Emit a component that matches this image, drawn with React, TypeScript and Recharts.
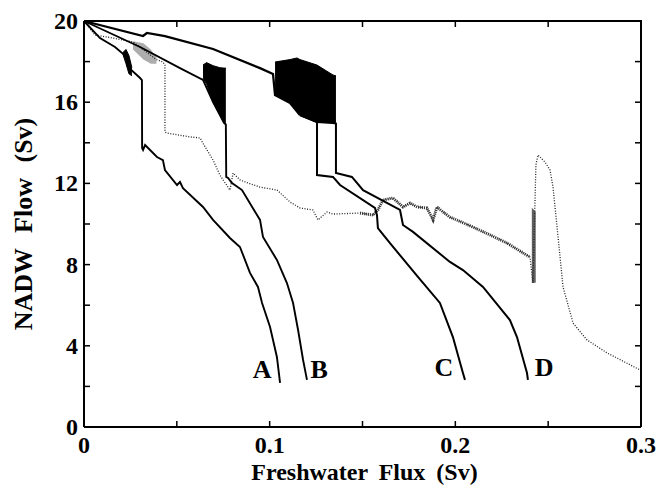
import React from 'react';
import { ComposedChart, Line, Area, XAxis, YAxis, ReferenceDot } from 'recharts';

// curve A (leftmost collapse)
const curveAX = [0, 0.0086, 0.0167, 0.0221, 0.0253, 0.0302, 0.0312, 0.0313, 0.0318, 0.0329, 0.0393, 0.0425, 0.0436, 0.0501, 0.0517, 0.0533, 0.0641, 0.0695, 0.0786, 0.084, 0.0894, 0.0937, 0.0959, 0.1002, 0.1039, 0.1056];
const curveAY = [20, 19.16, 18.72, 18.3, 17.6, 17.19, 17.09, 13.74, 13.65, 13.89, 13.3, 13.15, 12.66, 11.92, 12.07, 11.77, 10.84, 10.2, 9.31, 8.87, 7.59, 6.9, 6.11, 4.93, 3.45, 2.17];

// curve B
const curveBX = [0, 0.0302, 0.0517, 0.0641, 0.0695, 0.0732, 0.0754, 0.0764, 0.0766, 0.0776, 0.0797, 0.0851, 0.0948, 0.0964, 0.1039, 0.1093, 0.1126, 0.1153, 0.118, 0.1201];
const curveBY = [20, 18.72, 17.68, 17.1, 16.01, 15.37, 14.98, 14.9, 12.32, 12.27, 12.02, 11.67, 10.2, 9.36, 8.23, 7.09, 6.11, 4.78, 3.3, 2.32];

// shared upper path of C and D before the big oscillation
const upperX = [0, 0.0318, 0.0339, 0.0436, 0.0695, 0.0948, 0.1018, 0.1029, 0.111, 0.1163];
const upperY = [20, 19.26, 19.41, 19.26, 18.62, 17.68, 17.39, 16.35, 15.96, 15.37];

const curveCX = [0.1163, 0.1255, 0.1255, 0.1341, 0.1379, 0.1567, 0.1578, 0.1583, 0.1648, 0.1794, 0.1917, 0.1987, 0.2041, 0.2052];
const curveCY = [15.37, 15.02, 12.41, 12.32, 11.92, 10.79, 10.44, 9.8, 9.06, 7.44, 6.11, 4.43, 2.66, 2.32];

const curveDX = [0.1163, 0.1255, 0.1341, 0.1357, 0.1357, 0.1443, 0.1503, 0.1702, 0.1718, 0.1772, 0.1971, 0.2041, 0.2149, 0.2294, 0.2332, 0.2386, 0.2391];
const curveDY = [15.37, 15.02, 14.98, 14.95, 12.51, 12.32, 11.67, 10.69, 9.95, 9.61, 8.13, 7.73, 6.9, 5.27, 4.43, 2.66, 2.32];

// dotted run
const dottedX = [0, 0.0059, 0.0156, 0.0264, 0.039, 0.0425, 0.0436, 0.0436, 0.0447, 0.0571, 0.0625, 0.064, 0.0695, 0.0732, 0.0786, 0.0803, 0.084, 0.0883, 0.0948, 0.104, 0.111, 0.1163, 0.1233, 0.126, 0.1309, 0.1341, 0.1487, 0.1557, 0.1583, 0.161, 0.1664, 0.1718, 0.1756, 0.1794, 0.1847, 0.188, 0.1901, 0.1934, 0.1971, 0.2095, 0.2187, 0.2278, 0.2402, 0.2418, 0.2434, 0.2445, 0.2483, 0.251, 0.2526, 0.2548, 0.258, 0.2634, 0.2709, 0.2817, 0.2995];
const dottedY = [20, 19.31, 19.16, 18.97, 18.1, 17.98, 17.83, 14.53, 14.48, 14.29, 14.24, 13.99, 13.15, 12.41, 11.67, 12.51, 12.17, 12.02, 11.82, 11.67, 11.08, 10.79, 10.69, 10.2, 10.59, 10.49, 10.54, 10.44, 10.69, 11.18, 11.28, 10.84, 11.03, 10.84, 10.79, 10.2, 10.84, 10.59, 10.34, 9.85, 9.46, 9.06, 8.37, 7.09, 12.91, 13.4, 13.05, 12.66, 11.82, 9.85, 6.9, 5.12, 4.29, 3.65, 2.81];
// noisy (thick) stretch of the dotted run, index range into dottedX
const noisyFrom = 26;
const noisyTo = 43;

// oscillation envelopes (drawn as filled bands)
const blobAX = [0.021, 0.0226, 0.0242, 0.0258];
const blobALow = [18.35, 17.9, 17.4, 17.3];
const blobAHigh = [18.45, 18.6, 18.3, 17.7];

const blobBX = [0.0641, 0.066, 0.0695, 0.0732, 0.0754, 0.0764];
const blobBLow = [17.19, 16.9, 16.01, 15.37, 14.98, 14.88];
const blobBHigh = [17.83, 17.95, 17.8, 17.7, 17.68, 17.68];

const blobCDX = [0.1029, 0.111, 0.1147, 0.1163, 0.1255, 0.1341, 0.1357];
const blobCDLow = [16.35, 15.96, 15.6, 15.37, 15.02, 14.98, 14.95];
const blobCDHigh = [17.98, 18.1, 18.18, 18.1, 17.83, 17.34, 17.3];

const blobDotX = [0.0264, 0.032, 0.036, 0.039];
const blobDotLow = [18.6, 18.1, 17.9, 17.9];
const blobDotHigh = [19.0, 18.9, 18.6, 18.2];

const blobSpikeX = [0.2412, 0.2433];
const blobSpikeLow = [7.1, 7.1];
const blobSpikeHigh = [10.8, 10.6];

const xTicks = [0, 0.05, 0.1, 0.15, 0.2, 0.25, 0.3];
const xLabels = [0, 0.1, 0.2, 0.3];
const yTicks = [0, 2, 4, 6, 8, 10, 12, 14, 16, 18, 20];
const yLabels = [0, 4, 8, 12, 16, 20];
const X_MAX = 0.3;
const Y_MAX = 20;

const curveNames = ['A', 'B', 'C', 'D'];
const curveLabelX = [0.0959, 0.1266, 0.1939, 0.2478];
const curveLabelY = [2.81, 2.81, 2.91, 2.91];

const FONT = "'Liberation Serif', 'DejaVu Serif', serif";
const TICK = 6;

// layout
const W = 659;
const H = 492;
const MARGIN = { top: 21, right: 18, bottom: 0, left: 0 };
const Y_AXIS_W = 84;
const X_AXIS_H = 65;
const PLOT_W = W - MARGIN.left - MARGIN.right - Y_AXIS_W;
const PLOT_H = H - MARGIN.top - MARGIN.bottom - X_AXIS_H;

const pts = (xs: number[], ys: number[]) => xs.map((x, i) => ({ x, y: ys[i] }));
const band = (xs: number[], lo: number[], hi: number[]) => xs.map((x, i) => ({ x, r: [lo[i], hi[i]] }));

// bottom ticks also draw the mirrored tick on the top side; the last one draws the right side of the box
const BottomTick = (props: any) => {
  const { x, y, payload } = props;
  const v = payload.value;
  const show = xLabels.some(l => Math.abs(l - v) < 1e-9);
  const top = y - PLOT_H;
  const isLast = Math.abs(v - X_MAX) < 1e-9;
  return (
    <g>
      <line x1={x} x2={x} y1={y} y2={y - TICK} stroke="#000" strokeWidth={1.5} />
      <line x1={x} x2={x} y1={top} y2={top + TICK} stroke="#000" strokeWidth={1.5} />
      {isLast && <line x1={x} x2={x} y1={top - 1} y2={y} stroke="#000" strokeWidth={2} />}
      {show && (
        <text x={x} y={y + 26} textAnchor="middle" fontFamily={FONT} fontWeight="bold" fontSize={24} fill="#000">
          {String(v)}
        </text>
      )}
    </g>
  );
};

// left ticks also draw the mirrored tick on the right side; the top one draws the top side of the box
const LeftTick = (props: any) => {
  const { x, y, payload } = props;
  const show = yLabels.includes(payload.value);
  const right = x + PLOT_W;
  const isTop = payload.value === Y_MAX;
  return (
    <g>
      <line x1={x} x2={x + TICK} y1={y} y2={y} stroke="#000" strokeWidth={1.5} />
      <line x1={right} x2={right - TICK} y1={y} y2={y} stroke="#000" strokeWidth={1.5} />
      {isTop && <line x1={x} x2={right + 1} y1={y} y2={y} stroke="#000" strokeWidth={2} />}
      {show && (
        <text x={x - 6} y={y + 8} textAnchor="end" fontFamily={FONT} fontWeight="bold" fontSize={24} fill="#000">
          {payload.value}
        </text>
      )}
    </g>
  );
};

const XTitle = (props: any) => {
  const vb = props.viewBox;
  return (
    <text x={vb.x + vb.width / 2 + 2} y={480} textAnchor="middle" fontFamily={FONT} fontWeight="bold" fontSize={24} wordSpacing={5} fill="#000">
      Freshwater Flux (Sv)
    </text>
  );
};

const YTitle = (props: any) => {
  const vb = props.viewBox;
  const cy = vb.y + vb.height / 2;
  return (
    <text x={23} y={cy} transform={`rotate(-90 23 ${cy})`} textAnchor="middle" dominantBaseline="central" fontFamily={FONT} fontWeight="bold" fontSize={26} wordSpacing={9} fill="#000">
      NADW Flow (Sv)
    </text>
  );
};

const axisLine = { stroke: '#000', strokeWidth: 2 };

export default function App() {
  return (
    <div style={{ position: 'absolute', left: 0, top: 0, width: W, height: H, background: '#fff' }}>
      <ComposedChart width={W} height={H} margin={MARGIN}>
        <XAxis type="number" dataKey="x" domain={[0, X_MAX]} ticks={xTicks} height={X_AXIS_H}
          tickSize={0} tickMargin={0} tickLine={false} axisLine={axisLine} tick={<BottomTick />}
          label={<XTitle />} />
        <YAxis type="number" domain={[0, Y_MAX]} ticks={yTicks} width={Y_AXIS_W}
          tickSize={0} tickMargin={0} tickLine={false} axisLine={axisLine} tick={<LeftTick />}
          label={<YTitle />} />

        <Area data={band(blobDotX, blobDotLow, blobDotHigh)} dataKey="r" type="linear"
          stroke="none" fill="#8a8a8a" fillOpacity={0.7} isAnimationActive={false} />
        <Area data={band(blobSpikeX, blobSpikeLow, blobSpikeHigh)} dataKey="r" type="linear"
          stroke="none" fill="#444" fillOpacity={0.85} isAnimationActive={false} />
        <Area data={band(blobAX, blobALow, blobAHigh)} dataKey="r" type="linear"
          stroke="#000" fill="#000" fillOpacity={1} isAnimationActive={false} />
        <Area data={band(blobBX, blobBLow, blobBHigh)} dataKey="r" type="linear"
          stroke="#000" fill="#000" fillOpacity={1} isAnimationActive={false} />
        <Area data={band(blobCDX, blobCDLow, blobCDHigh)} dataKey="r" type="linear"
          stroke="#000" fill="#000" fillOpacity={1} isAnimationActive={false} />

        <Line data={pts(dottedX, dottedY)} dataKey="y" type="linear" dot={false}
          stroke="#222" strokeWidth={1.3} strokeDasharray="1 1.6" isAnimationActive={false} />
        <Line data={pts(dottedX.slice(noisyFrom, noisyTo), dottedY.slice(noisyFrom, noisyTo))} dataKey="y" type="linear" dot={false}
          stroke="#333" strokeWidth={3} strokeDasharray="1 1" isAnimationActive={false} />
        <Line data={pts(curveAX, curveAY)} dataKey="y" type="linear" dot={false}
          stroke="#000" strokeWidth={1.9} isAnimationActive={false} />
        <Line data={pts(curveBX, curveBY)} dataKey="y" type="linear" dot={false}
          stroke="#000" strokeWidth={1.9} isAnimationActive={false} />
        <Line data={pts(upperX, upperY)} dataKey="y" type="linear" dot={false}
          stroke="#000" strokeWidth={2.3} isAnimationActive={false} />
        <Line data={pts(curveCX, curveCY)} dataKey="y" type="linear" dot={false}
          stroke="#000" strokeWidth={2} isAnimationActive={false} />
        <Line data={pts(curveDX, curveDY)} dataKey="y" type="linear" dot={false}
          stroke="#000" strokeWidth={2} isAnimationActive={false} />

        {curveNames.map((name, i) => (
          <ReferenceDot key={name} x={curveLabelX[i]} y={curveLabelY[i]} r={0}
            shape={(p: any) => (
              <text x={p.cx} y={p.cy} textAnchor="middle" dominantBaseline="central" fontFamily={FONT} fontWeight="bold" fontSize={26} fill="#000">
                {name}
              </text>
            )} />
        ))}
      </ComposedChart>
    </div>
  );
}
